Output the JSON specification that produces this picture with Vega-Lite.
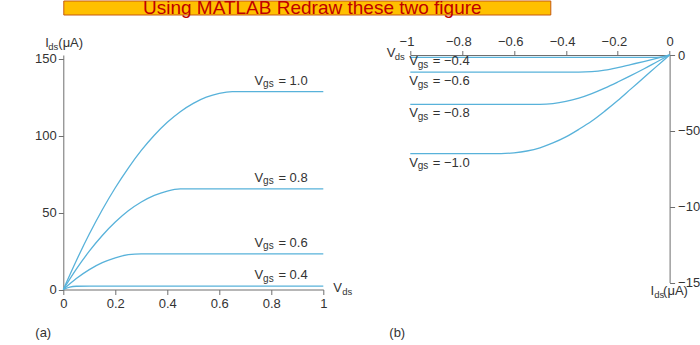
{
  "$schema": "https://vega.github.io/schema/vega-lite/v6.json",
  "padding": {"left": 34.3, "top": -1.5, "right": -6.3, "bottom": 0},
  "bounds": "flush",
  "spacing": 40.5,
  "config": {
    "font": "Liberation Sans",
    "view": {"stroke": null},
    "text": {"font": "Liberation Sans", "fontSize": 13, "color": "#333333", "align": "left", "baseline": "alphabetic"},
    "axis": {"grid": false, "domainColor": "#6e6e6e", "tickColor": "#6e6e6e", "labelColor": "#333333", "labelFont": "Liberation Sans", "labelFontSize": 13, "tickSize": 5, "labelFlush": false, "labelOverlap": false, "domainWidth": 1, "tickWidth": 1}
  },
  "datasets": {
    "ca": [
      {"vgs": "1.0", "vds": 0, "ids": 0}, {"vgs": "1.0", "vds": 0.05, "ids": 18.7}, {"vgs": "1.0", "vds": 0.1, "ids": 36.0}, {"vgs": "1.0", "vds": 0.15, "ids": 51.8}, {"vgs": "1.0", "vds": 0.2, "ids": 66.1}, {"vgs": "1.0", "vds": 0.25, "ids": 78.9}, {"vgs": "1.0", "vds": 0.3, "ids": 90.3}, {"vgs": "1.0", "vds": 0.35, "ids": 100.2}, {"vgs": "1.0", "vds": 0.4, "ids": 108.6}, {"vgs": "1.0", "vds": 0.45, "ids": 115.5}, {"vgs": "1.0", "vds": 0.5, "ids": 120.9}, {"vgs": "1.0", "vds": 0.55, "ids": 124.9}, {"vgs": "1.0", "vds": 0.6, "ids": 127.4}, {"vgs": "1.0", "vds": 0.65, "ids": 128.5}, {"vgs": "1.0", "vds": 0.7, "ids": 128.5}, {"vgs": "1.0", "vds": 0.8, "ids": 128.5}, {"vgs": "1.0", "vds": 0.9, "ids": 128.5}, {"vgs": "1.0", "vds": 1, "ids": 128.5},
      {"vgs": "0.8", "vds": 0, "ids": 0}, {"vgs": "0.8", "vds": 0.05, "ids": 13.2}, {"vgs": "0.8", "vds": 0.1, "ids": 24.9}, {"vgs": "0.8", "vds": 0.15, "ids": 35.1}, {"vgs": "0.8", "vds": 0.2, "ids": 43.8}, {"vgs": "0.8", "vds": 0.25, "ids": 51.1}, {"vgs": "0.8", "vds": 0.3, "ids": 56.8}, {"vgs": "0.8", "vds": 0.35, "ids": 61.1}, {"vgs": "0.8", "vds": 0.4, "ids": 63.9}, {"vgs": "0.8", "vds": 0.45, "ids": 65.3}, {"vgs": "0.8", "vds": 0.5, "ids": 65.4}, {"vgs": "0.8", "vds": 0.6, "ids": 65.4}, {"vgs": "0.8", "vds": 0.8, "ids": 65.4}, {"vgs": "0.8", "vds": 1, "ids": 65.4},
      {"vgs": "0.6", "vds": 0, "ids": 0}, {"vgs": "0.6", "vds": 0.05, "ids": 7.1}, {"vgs": "0.6", "vds": 0.1, "ids": 12.9}, {"vgs": "0.6", "vds": 0.15, "ids": 17.4}, {"vgs": "0.6", "vds": 0.2, "ids": 20.6}, {"vgs": "0.6", "vds": 0.25, "ids": 22.6}, {"vgs": "0.6", "vds": 0.3, "ids": 23.2}, {"vgs": "0.6", "vds": 0.5, "ids": 23.2}, {"vgs": "0.6", "vds": 1, "ids": 23.2},
      {"vgs": "0.4", "vds": 0, "ids": 0}, {"vgs": "0.4", "vds": 0.025, "ids": 1.6}, {"vgs": "0.4", "vds": 0.05, "ids": 2.1}, {"vgs": "0.4", "vds": 0.1, "ids": 2.2}, {"vgs": "0.4", "vds": 1, "ids": 2.2}
    ],
    "cb": [
      {"vgs": "−0.4", "vds": 0, "ids": 0}, {"vgs": "−0.4", "vds": -0.025, "ids": -1.2}, {"vgs": "−0.4", "vds": -0.05, "ids": -1.5}, {"vgs": "−0.4", "vds": -0.1, "ids": -1.5}, {"vgs": "−0.4", "vds": -1, "ids": -1.5},
      {"vgs": "−0.6", "vds": 0, "ids": 0}, {"vgs": "−0.6", "vds": -0.05, "ids": -2.2}, {"vgs": "−0.6", "vds": -0.1, "ids": -4.3}, {"vgs": "−0.6", "vds": -0.15, "ids": -6.3}, {"vgs": "−0.6", "vds": -0.2, "ids": -8.3}, {"vgs": "−0.6", "vds": -0.25, "ids": -10.0}, {"vgs": "−0.6", "vds": -0.3, "ids": -11.0}, {"vgs": "−0.6", "vds": -0.35, "ids": -11.3}, {"vgs": "−0.6", "vds": -0.5, "ids": -11.3}, {"vgs": "−0.6", "vds": -1, "ids": -11.3},
      {"vgs": "−0.8", "vds": 0, "ids": 0}, {"vgs": "−0.8", "vds": -0.05, "ids": -4.6}, {"vgs": "−0.8", "vds": -0.1, "ids": -9.2}, {"vgs": "−0.8", "vds": -0.15, "ids": -13.6}, {"vgs": "−0.8", "vds": -0.2, "ids": -17.8}, {"vgs": "−0.8", "vds": -0.25, "ids": -21.8}, {"vgs": "−0.8", "vds": -0.3, "ids": -25.4}, {"vgs": "−0.8", "vds": -0.35, "ids": -28.4}, {"vgs": "−0.8", "vds": -0.4, "ids": -30.6}, {"vgs": "−0.8", "vds": -0.45, "ids": -32.0}, {"vgs": "−0.8", "vds": -0.5, "ids": -32.5}, {"vgs": "−0.8", "vds": -0.6, "ids": -32.5}, {"vgs": "−0.8", "vds": -1, "ids": -32.5},
      {"vgs": "−1.0", "vds": 0, "ids": 0}, {"vgs": "−1.0", "vds": -0.05, "ids": -7.5}, {"vgs": "−1.0", "vds": -0.1, "ids": -15.0}, {"vgs": "−1.0", "vds": -0.15, "ids": -22.5}, {"vgs": "−1.0", "vds": -0.2, "ids": -30.0}, {"vgs": "−1.0", "vds": -0.25, "ids": -37.0}, {"vgs": "−1.0", "vds": -0.3, "ids": -43.5}, {"vgs": "−1.0", "vds": -0.35, "ids": -49.0}, {"vgs": "−1.0", "vds": -0.4, "ids": -54.0}, {"vgs": "−1.0", "vds": -0.45, "ids": -58.0}, {"vgs": "−1.0", "vds": -0.5, "ids": -61.2}, {"vgs": "−1.0", "vds": -0.55, "ids": -63.3}, {"vgs": "−1.0", "vds": -0.6, "ids": -64.5}, {"vgs": "−1.0", "vds": -0.65, "ids": -65.0}, {"vgs": "−1.0", "vds": -0.7, "ids": -65.0}, {"vgs": "−1.0", "vds": -1, "ids": -65.0}
    ],
    "la": [
      {"vgs": "1.0", "isat": 128.5, "eq": "= 1.0"},
      {"vgs": "0.8", "isat": 65.4, "eq": "= 0.8"},
      {"vgs": "0.6", "isat": 23.2, "eq": "= 0.6"},
      {"vgs": "0.4", "isat": 2.2, "eq": "= 0.4"}
    ],
    "lb": [
      {"vgs": "−0.4", "isat": -1.5, "eq": "= −0.4"},
      {"vgs": "−0.6", "isat": -11.3, "eq": "= −0.6"},
      {"vgs": "−0.8", "isat": -32.5, "eq": "= −0.8"},
      {"vgs": "−1.0", "isat": -65.0, "eq": "= −1.0"}
    ],
    "ann": [{"k": 1}]
  },
  "vconcat": [
    {
      "width": 487,
      "height": 14,
      "view": {"fill": "#FFC000", "stroke": "#C55A11", "strokeWidth": 1},
      "data": {"values": [{"t": "Using MATLAB Redraw these two figure"}]},
      "mark": {"type": "text", "fontSize": 19, "color": "#C00000", "align": "center", "baseline": "alphabetic", "dy": 6.5, "dx": 5.5},
      "encoding": {"text": {"field": "t"}}
    },
    {
      "hconcat": [
        {
          "width": 260,
          "height": 234.5,
          "layer": [
            {
              "data": {"name": "ca"},
              "mark": {"type": "line", "color": "#58B2DA", "strokeWidth": 1.3, "interpolate": "monotone"},
              "encoding": {
                "x": {"field": "vds", "type": "quantitative", "title": null, "scale": {"domain": [0, 1], "nice": false, "zero": false}, "axis": {"orient": "bottom", "values": [0, 0.2, 0.4, 0.6, 0.8, 1], "format": "~g", "title": null, "labelPadding": 3, "tickSize": 5}},
                "y": {"field": "ids", "type": "quantitative", "title": null, "scale": {"domain": [0, 152.3], "nice": false}, "axis": {"orient": "left", "values": [0, 50, 100, 150], "title": null, "labelPadding": 2, "tickSize": 5}},
                "detail": {"field": "vgs"}
              }
            },
            {
              "data": {"name": "la"},
              "mark": {"type": "text", "text": "V", "dy": -7},
              "encoding": {"x": {"datum": 0.735, "type": "quantitative", "title": null}, "y": {"field": "isat", "type": "quantitative", "title": null}}
            },
            {
              "data": {"name": "la"},
              "mark": {"type": "text", "text": "gs", "fontSize": 10, "dx": 8.7, "dy": -4.5},
              "encoding": {"x": {"datum": 0.735, "type": "quantitative", "title": null}, "y": {"field": "isat", "type": "quantitative", "title": null}}
            },
            {
              "data": {"name": "la"},
              "mark": {"type": "text", "dx": 24, "dy": -7},
              "encoding": {"x": {"datum": 0.735, "type": "quantitative", "title": null}, "y": {"field": "isat", "type": "quantitative", "title": null}, "text": {"field": "eq"}}
            },
            {
              "data": {"name": "ann"},
              "mark": {"type": "text", "text": "I", "dx": -18, "dy": -11.3},
              "encoding": {"x": {"datum": 0, "type": "quantitative", "title": null}, "y": {"datum": 150, "type": "quantitative", "title": null}}
            },
            {
              "data": {"name": "ann"},
              "mark": {"type": "text", "text": "ds", "fontSize": 9.5, "dx": -15, "dy": -8.5},
              "encoding": {"x": {"datum": 0, "type": "quantitative", "title": null}, "y": {"datum": 150, "type": "quantitative", "title": null}}
            },
            {
              "data": {"name": "ann"},
              "mark": {"type": "text", "text": "(μA)", "dx": -5, "dy": -11.3},
              "encoding": {"x": {"datum": 0, "type": "quantitative", "title": null}, "y": {"datum": 150, "type": "quantitative", "title": null}}
            },
            {
              "data": {"name": "ann"},
              "mark": {"type": "text", "text": "V", "dx": 10, "dy": 2},
              "encoding": {"x": {"datum": 1, "type": "quantitative", "title": null}, "y": {"datum": 0, "type": "quantitative", "title": null}}
            },
            {
              "data": {"name": "ann"},
              "mark": {"type": "text", "text": "ds", "fontSize": 9.5, "dx": 19, "dy": 5},
              "encoding": {"x": {"datum": 1, "type": "quantitative", "title": null}, "y": {"datum": 0, "type": "quantitative", "title": null}}
            },
            {
              "data": {"name": "ann"},
              "mark": {"type": "text", "text": "(a)", "dx": -28, "dy": 47},
              "encoding": {"x": {"datum": 0, "type": "quantitative", "title": null}, "y": {"datum": 0, "type": "quantitative", "title": null}}
            }
          ]
        },
        {
          "width": 259.3,
          "height": 227.5,
          "layer": [
            {
              "data": {"name": "cb"},
              "mark": {"type": "line", "color": "#58B2DA", "strokeWidth": 1.3, "interpolate": "monotone"},
              "encoding": {
                "x": {"field": "vds", "type": "quantitative", "title": null, "scale": {"domain": [-1, 0], "nice": false, "zero": false}, "axis": {"orient": "top", "values": [-1, -0.8, -0.6, -0.4, -0.2, 0], "format": "~g", "title": null, "tickSize": 4.5, "labelPadding": 2.5, "labelOffset": {"condition": {"test": "datum.value < 0", "value": -3.8}, "value": 0}}},
                "y": {"field": "ids", "type": "quantitative", "title": null, "scale": {"domain": [-150, 0], "nice": false}, "axis": {"orient": "right", "values": [0, -50, -100, -150], "title": null, "labelPadding": 3, "tickSize": 5}},
                "detail": {"field": "vgs"}
              }
            },
            {
              "data": {"name": "lb"},
              "transform": [{"filter": "datum.isat < -5"}],
              "mark": {"type": "text", "text": "V", "dx": -1, "dy": 13},
              "encoding": {"x": {"datum": -1, "type": "quantitative", "title": null}, "y": {"field": "isat", "type": "quantitative", "title": null}}
            },
            {
              "data": {"name": "lb"},
              "transform": [{"filter": "datum.isat < -5"}],
              "mark": {"type": "text", "text": "gs", "fontSize": 10, "dx": 7.5, "dy": 15.5},
              "encoding": {"x": {"datum": -1, "type": "quantitative", "title": null}, "y": {"field": "isat", "type": "quantitative", "title": null}}
            },
            {
              "data": {"name": "lb"},
              "transform": [{"filter": "datum.isat < -5"}],
              "mark": {"type": "text", "dx": 22.5, "dy": 13},
              "encoding": {"x": {"datum": -1, "type": "quantitative", "title": null}, "y": {"field": "isat", "type": "quantitative", "title": null}, "text": {"field": "eq"}}
            },
            {
              "data": {"name": "lb"},
              "transform": [{"filter": "datum.isat >= -5"}],
              "mark": {"type": "text", "text": "V", "dx": -1, "dy": 8},
              "encoding": {"x": {"datum": -1, "type": "quantitative", "title": null}, "y": {"field": "isat", "type": "quantitative", "title": null}}
            },
            {
              "data": {"name": "lb"},
              "transform": [{"filter": "datum.isat >= -5"}],
              "mark": {"type": "text", "text": "gs", "fontSize": 10, "dx": 7.5, "dy": 10.5},
              "encoding": {"x": {"datum": -1, "type": "quantitative", "title": null}, "y": {"field": "isat", "type": "quantitative", "title": null}}
            },
            {
              "data": {"name": "lb"},
              "transform": [{"filter": "datum.isat >= -5"}],
              "mark": {"type": "text", "dx": 22.5, "dy": 8},
              "encoding": {"x": {"datum": -1, "type": "quantitative", "title": null}, "y": {"field": "isat", "type": "quantitative", "title": null}, "text": {"field": "eq"}}
            },
            {
              "data": {"name": "ann"},
              "mark": {"type": "text", "text": "V", "dx": -23.5, "dy": 2},
              "encoding": {"x": {"datum": -1, "type": "quantitative", "title": null}, "y": {"datum": 0, "type": "quantitative", "title": null}}
            },
            {
              "data": {"name": "ann"},
              "mark": {"type": "text", "text": "ds", "fontSize": 9.5, "dx": -15.5, "dy": 5},
              "encoding": {"x": {"datum": -1, "type": "quantitative", "title": null}, "y": {"datum": 0, "type": "quantitative", "title": null}}
            },
            {
              "data": {"name": "ann"},
              "mark": {"type": "text", "text": "I", "dx": -19, "dy": 12.5},
              "encoding": {"x": {"datum": 0, "type": "quantitative", "title": null}, "y": {"datum": -150, "type": "quantitative", "title": null}}
            },
            {
              "data": {"name": "ann"},
              "mark": {"type": "text", "text": "ds", "fontSize": 9.5, "dx": -15.3, "dy": 15.3},
              "encoding": {"x": {"datum": 0, "type": "quantitative", "title": null}, "y": {"datum": -150, "type": "quantitative", "title": null}}
            },
            {
              "data": {"name": "ann"},
              "mark": {"type": "text", "text": "(μA)", "dx": -6.5, "dy": 12.5},
              "encoding": {"x": {"datum": 0, "type": "quantitative", "title": null}, "y": {"datum": -150, "type": "quantitative", "title": null}}
            },
            {
              "data": {"name": "ann"},
              "mark": {"type": "text", "text": "(b)", "dx": -21, "dy": 54},
              "encoding": {"x": {"datum": -1, "type": "quantitative", "title": null}, "y": {"datum": -150, "type": "quantitative", "title": null}}
            }
          ]
        }
      ],
      "spacing": 87,
      "bounds": "flush"
    }
  ]
}
